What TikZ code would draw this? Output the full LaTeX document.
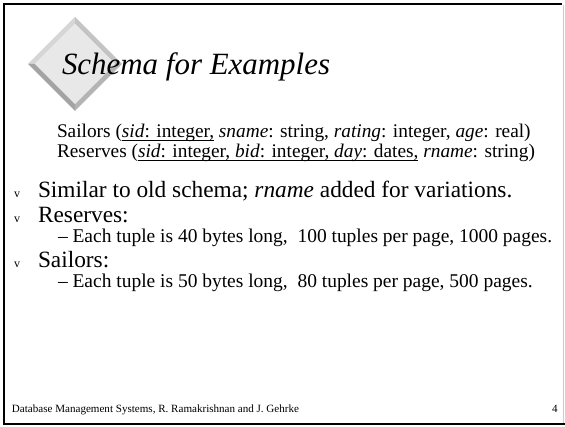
\documentclass[tikz,border=0pt]{standalone}
\usepackage{fontspec}
\setmainfont{Liberation Serif}

\newcommand{\fsz}[1]{\fontsize{#1}{1.2\dimexpr#1\relax}\selectfont}
\newcommand{\keyline}[1]{\setbox0\hbox{#1}\rlap{\rule[-2.6pt]{\wd0}{0.8pt}}\box0\relax}

\definecolor{facegray}{HTML}{E8E8E8}
\definecolor{bevlight}{HTML}{D6D6D6}
\definecolor{bevmid}{HTML}{C4C4C4}
\definecolor{bevdark}{HTML}{A4A4A4}
\definecolor{bevdeep}{HTML}{B4B4B4}

\begin{document}
\begin{tikzpicture}[x=0.75pt, y=-0.75pt,
  txt/.style={anchor=base west, inner sep=0pt, outer sep=0pt},
  bul/.style={txt, font=\fsz{9pt}}]
			\useasboundingbox (0,0) rectangle (565,427);
			% Frame
			\draw[line width=2.2pt] (562,4) -- (4,4) -- (4,424) -- (565,424);
			\draw[gray!40, line width=0.6pt] (563,5) -- (563,423);

			% Diamond
			\fill[bevlight] (75,17) -- (28,64) -- (35,64) -- (75,24) -- cycle;
			\fill[bevmid] (75,17) -- (122,64) -- (115,64) -- (75,24) -- cycle;
			\fill[bevdark] (28,64) -- (75,111) -- (75,104) -- (35,64) -- cycle;
			\fill[bevdeep] (122,64) -- (75,111) -- (75,104) -- (115,64) -- cycle;
			\fill[facegray] (75,24) -- (115,64) -- (75,104) -- (35,64) -- cycle;

			% Title
			\node[txt, font=\fsz{23.2pt}\itshape] (title) at (62,75) {Schema for Examples};

			% Schema
			\node[txt, font=\fsz{14.5pt}] (schemaS) at (57,138)
			  {Sailors (\keyline{\textit{sid}: integer,} \textit{sname}: string, \textit{rating}: integer, \textit{age}: real)};
			\node[txt, font=\fsz{14.5pt}] (schemaR) at (57,158)
			  {Reserves (\keyline{\textit{sid}: integer, \textit{bid}: integer, \textit{day}: dates,} \textit{rname}: string)};

			% Bullets
			\node[bul] (v1) at (14,198) {v};
			\node[txt, font=\fsz{17.5pt}] (b1) at (38,198) {Similar to old schema; \textit{rname} added for variations.};
			\node[bul] (v2) at (14,223) {v};
			\node[txt, font=\fsz{17.5pt}] (b2) at (38,223) {Reserves:};
			\node[txt, font=\fsz{14.6pt}] (b2a) at (58,243) {--\ Each tuple is 40 bytes long,\ \ 100 tuples per page, 1000 pages.};
			\node[bul] (v3) at (14,268) {v};
			\node[txt, font=\fsz{17.5pt}] (b3) at (38,268) {Sailors:};
			\node[txt, font=\fsz{14.6pt}] (b3a) at (58,288) {--\ Each tuple is 50 bytes long,\ \ 80 tuples per page, 500 pages.};

			% Footer
			\node[txt, font=\fsz{8.3pt}] (footer) at (12,413) {Database Management Systems, R. Ramakrishnan and J. Gehrke};
			\node[anchor=base east, inner sep=0pt, font=\fsz{8.3pt}] (pagenum) at (558,413) {4};
		\end{tikzpicture}
\end{document}
